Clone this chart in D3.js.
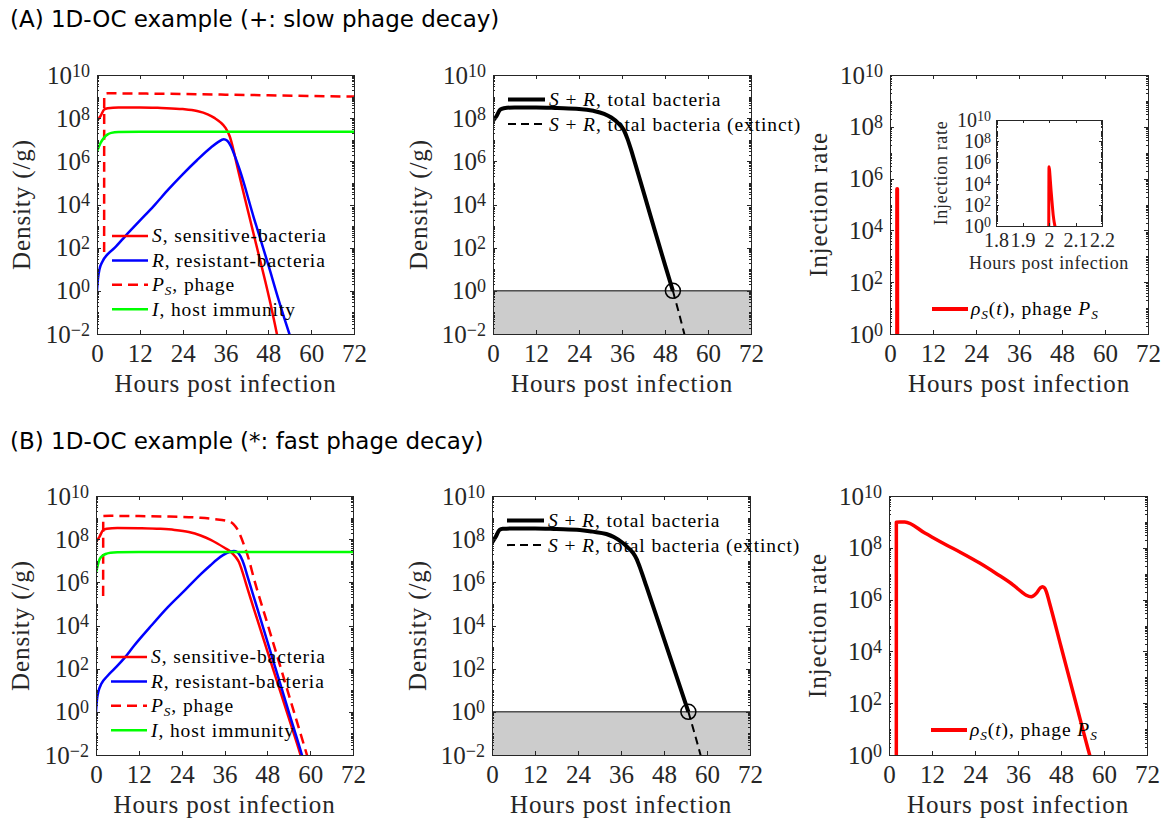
<!DOCTYPE html>
<html>
<head>
<meta charset="utf-8">
<script src="https://cdn.jsdelivr.net/npm/d3@7"></script>
<style>
  body { margin: 0; background: #fff; }
  svg { display: block; }
</style>
</head>
<body>
<svg id="fig" width="1176" height="826"></svg>
<script>
// ---- tick values -------------------------------------------------------
const hourTicks = [0, 12, 24, 36, 48, 60, 72];
const densityExps = [-2, 0, 2, 4, 6, 8, 10];
const rateExps = [0, 2, 4, 6, 8, 10];
const insetHourTicks = [1.8, 1.9, 2, 2.1, 2.2];

// ---- (A) slow phage decay: [hours post infection, log10 value] ---------
const slowSensitive = [[0,7.88],[1,8.1],[2,8.4],[3,8.46],[6,8.5],[12,8.5],[18,8.47],[24,8.42],[28,8.33],[31,8.18],[33,8.0],[34.5,7.82],[36,7.55],[37.2,7.15],[38.2,6.55],[39.1,5.9],[44,2.55],[48.4,-0.45],[50.4,-2.0],[51,-2.5]];
const slowResistant = [[0,0],[0.3,0.6],[0.7,1.0],[1.5,1.35],[3,1.7],[5,2.0],[8,2.55],[12,3.25],[16,3.95],[20,4.7],[24,5.4],[28,6.05],[32,6.65],[34,6.9],[35.5,7.02],[36.5,6.95],[37.5,6.7],[38.5,6.3],[40,5.6],[44,3.35],[48,1.2],[50.9,-0.43],[53.9,-2],[54.5,-2.3]];
const slowPhage = [[2,1.8],[2.02,9.1],[3,9.15],[12,9.14],[24,9.12],[36,9.09],[48,9.06],[60,9.03],[72,9.0]];
const slowImmunity = [[0,6.45],[1,6.85],[2,7.1],[3,7.25],[4,7.32],[6,7.36],[12,7.37],[72,7.37]];
const slowTotal = [[0,7.88],[1,8.1],[2,8.4],[3,8.46],[6,8.5],[12,8.5],[18,8.47],[24,8.43],[28,8.34],[31,8.2],[33,8.03],[35,7.76],[36.5,7.45],[37.5,7.05],[38.5,6.55],[39.5,6.0],[44,3.45],[48,1.2],[50.2,0]];
const slowTotalExtinct = [[50.2,0],[53.4,-2],[54,-2.4]];
const slowRate = [[1.999,-1],[2.0,5.6],[2.002,5.3],[2.005,4.3],[2.008,3.3],[2.012,2.1],[2.016,1.0],[2.02,0.3],[2.025,-0.3],[2.03,-1]];

// ---- (B) fast phage decay ----------------------------------------------
const fastSensitive = [[0,7.87],[1,8.12],[2,8.42],[3,8.48],[6,8.52],[12,8.51],[18,8.48],[22,8.43],[26,8.33],[29.3,8.17],[32,7.98],[34,7.8],[36,7.6],[37.7,7.42],[39,7.2],[40,6.95],[41,6.5],[42,5.95],[46,3.85],[50,1.78],[54,-0.28],[57.3,-2.0],[58,-2.4]];
const fastResistant = [[0,0],[0.3,0.6],[0.7,0.95],[1.5,1.3],[3.2,1.66],[5,1.97],[8,2.5],[10.6,3.05],[15,3.9],[20,4.83],[25,5.65],[29.3,6.37],[32,6.78],[34,7.07],[36.8,7.37],[38.6,7.45],[39.6,7.4],[40.5,7.2],[41.5,6.8],[42.4,6.3],[46,4.35],[50,2.18],[54,0.0],[57.7,-2.0],[58.5,-2.45]];
const fastPhage = [[2,5.37],[2.03,9.07],[4,9.08],[12,9.07],[20,9.05],[26,9.02],[29.3,8.99],[33,8.93],[36.8,8.84],[38.5,8.7],[39.6,8.46],[40.5,8.15],[41.4,7.76],[42.8,7.07],[44.2,6.2],[48,4.1],[52,1.9],[56,-0.3],[59.1,-2.0],[60,-2.5]];
const fastImmunity = [[0,6.45],[0.5,6.8],[1,7.07],[2,7.25],[3,7.33],[4.1,7.37],[6,7.39],[12,7.4],[72,7.4]];
const fastTotal = [[0,7.84],[1,8.1],[2.1,8.43],[3,8.48],[6,8.5],[12,8.5],[18,8.47],[24.5,8.43],[28,8.35],[31.9,8.24],[34,8.1],[36.6,7.81],[38,7.6],[39.4,7.35],[40.3,7.1],[41.2,6.73],[42.2,6.25],[43.1,5.81],[48,3.38],[54.8,0]];
const fastTotalExtinct = [[54.8,0],[58.2,-2],[59,-2.5]];
const fastRate = [[2.04,-1],[2.05,8.99],[3,9.0],[4.4,9.0],[10,8.57],[16,8.11],[20,7.82],[25.3,7.41],[30,7.0],[34.6,6.57],[37,6.3],[38.3,6.17],[39.7,6.11],[41.1,6.24],[42.2,6.45],[42.8,6.5],[43.4,6.45],[43.9,6.31],[44.8,5.87],[48,4.19],[52,2.09],[56,0],[56.6,-0.3]];

// ---- legend labels: [text, style]; style 'i' italic, '_' subscript ----
const labelSensitive = [['S','i'],[', sensitive-bacteria','']];
const labelResistant = [['R','i'],[', resistant-bacteria','']];
const labelPhage = [['P','i'],['S','i_'],[', phage','']];
const labelImmunity = [['I','i'],[', host immunity','']];
const labelTotal = [['S','i'],[' + ',''],['R','i'],[', total bacteria','']];
const labelTotalExtinct = [['S','i'],[' + ',''],['R','i'],[', total bacteria (extinct)','']];
const labelRate = [['\u03C1','i'],['S','i_'],['(',''],['t','i'],['), phage ',''],['P','i'],['S','i_']];

// ---- drawing helpers ---------------------------------------------------
const svg = d3.select('#fig');
const INK = '#262626';
const SERIF = '"Liberation Serif","Times New Roman",serif';
const SANS = '"DejaVu Sans", Verdana, sans-serif';
const RED = '#ff0000', BLUE = '#0000ff', GREEN = '#00ff00', BLACK = '#000000';
const defs = svg.append('defs');
let clipCount = 0;

function richText(t, segs, size) {
  let shift = 0;
  segs.forEach(([s, st]) => {
    const ts = t.append('tspan').text(s);
    if (st.includes('i')) ts.attr('font-style', 'italic');
    const want = st.includes('_') ? size * 0.17 : 0;
    if (want !== shift) { ts.attr('dy', want - shift); shift = want; }
    if (st.includes('_')) ts.attr('font-size', size * 0.68);
  });
}

function makePanel(box, xDomain, expRange, xTicks, expTicks, sz) {
  const x = d3.scaleLinear().domain(xDomain).range([box.x, box.x + box.w]);
  const y = d3.scaleLog().domain([10 ** expRange[0], 10 ** expRange[1]]).range([box.y + box.h, box.y]);
  const g = svg.append('g');
  g.append('rect').attr('x', box.x).attr('y', box.y).attr('width', box.w).attr('height', box.h).attr('fill', '#fff');
  const cid = 'plotclip' + (clipCount++);
  defs.append('clipPath').attr('id', cid).append('rect')
    .attr('x', box.x).attr('y', box.y).attr('width', box.w).attr('height', box.h);
  const plot = g.append('g').attr('clip-path', `url(#${cid})`);
  const axes = g.append('g').attr('shape-rendering', 'crispEdges');

  const majors = expTicks.map(k => 10 ** k);
  const minors = [];
  for (let k = expRange[0]; k < expRange[1]; k++) {
    for (let m = 1; m < 10; m++) {
      if (m === 1 && expTicks.includes(k)) continue;
      minors.push(m * 10 ** k);
    }
  }

  axes.append('g').attr('transform', `translate(0,${box.y + box.h})`)
    .call(d3.axisBottom(x).tickValues(xTicks).tickSize(-sz.tickLen).tickSizeOuter(0)
      .tickPadding(sz.padX).tickFormat(d => String(d)));
  axes.append('g').attr('transform', `translate(0,${box.y})`)
    .call(d3.axisTop(x).tickValues(xTicks).tickSize(-sz.tickLen).tickSizeOuter(0).tickFormat(''));
  const left = axes.append('g').attr('transform', `translate(${box.x},0)`)
    .call(d3.axisLeft(y).tickValues(majors).tickSize(-sz.tickLen).tickSizeOuter(0).tickPadding(sz.padY));
  axes.append('g').attr('transform', `translate(${box.x + box.w},0)`)
    .call(d3.axisRight(y).tickValues(majors).tickSize(-sz.tickLen).tickSizeOuter(0).tickFormat(''));
  axes.append('g').attr('transform', `translate(${box.x},0)`)
    .call(d3.axisLeft(y).tickValues(minors).tickSize(-sz.minorLen).tickSizeOuter(0).tickFormat(''))
    .select('.domain').remove();
  axes.append('g').attr('transform', `translate(${box.x + box.w},0)`)
    .call(d3.axisRight(y).tickValues(minors).tickSize(-sz.minorLen).tickSizeOuter(0).tickFormat(''))
    .select('.domain').remove();

  axes.selectAll('path.domain').attr('stroke', INK).attr('stroke-width', 1);
  axes.selectAll('line').attr('stroke', INK).attr('stroke-width', 1);
  axes.selectAll('g').attr('font-family', null).attr('font-size', null);
  axes.selectAll('text').attr('font-family', SERIF).attr('font-size', sz.tick).attr('fill', INK);

  // power-of-ten labels: 10 with a raised exponent
  left.selectAll('.tick text').text(null).each(function (d) {
    const k = Math.round(Math.log10(d));
    const t = d3.select(this);
    t.append('tspan').text('10');
    t.append('tspan').attr('dy', -sz.supRaise).attr('font-size', sz.sup)
      .text(k < 0 ? '\u2212' + (-k) : String(k));
  });

  return { x, y, g, plot, box, sz };
}

function series(p, data, color, width, dash) {
  const line = d3.line()
    .x(d => p.x(d[0]))
    .y(d => p.y(10 ** d[1]))
    .curve(d3.curveMonotoneX);
  p.plot.append('path').datum(data)
    .attr('d', line).attr('fill', 'none').attr('stroke', color)
    .attr('stroke-width', width).attr('stroke-linejoin', 'round')
    .attr('stroke-dasharray', dash || null);
}

function axisLabels(p, xText, yText, yOffset) {
  const b = p.box, sz = p.sz;
  p.g.append('text')
    .attr('x', b.x + b.w / 2).attr('y', b.y + b.h + sz.xLabelGap)
    .attr('text-anchor', 'middle').attr('font-family', SERIF)
    .attr('font-size', sz.label).attr('letter-spacing', sz.spacing).attr('fill', INK)
    .text(xText);
  p.g.append('text')
    .attr('transform', `translate(${b.x - yOffset},${b.y + b.h / 2}) rotate(-90)`)
    .attr('dy', '0.33em')
    .attr('text-anchor', 'middle').attr('font-family', SERIF)
    .attr('font-size', sz.label).attr('letter-spacing', sz.spacing).attr('fill', INK)
    .text(yText);
}

function legend(p, items, lay) {
  const b = p.box;
  items.forEach((it, i) => {
    const yy = b.y + lay.top + i * lay.step;
    p.g.append('line')
      .attr('x1', b.x + lay.l0).attr('x2', b.x + lay.l1).attr('y1', yy).attr('y2', yy)
      .attr('stroke', it.color).attr('stroke-width', it.width)
      .attr('stroke-dasharray', it.dash || null);
    const t = p.g.append('text')
      .attr('x', b.x + lay.tx).attr('y', yy + lay.size * 0.33)
      .attr('font-family', SERIF).attr('font-size', lay.size)
      .attr('letter-spacing', lay.spacing).attr('fill', '#000');
    richText(t, it.label, lay.size);
  });
}

const mainSize = { tick: 25, sup: 18, supRaise: 7, tickLen: 4, minorLen: 2, padX: 10, padY: 7,
                   label: 25, spacing: 0.9, xLabelGap: 58 };
const insetSize = { tick: 20, sup: 14, supRaise: 5.5, tickLen: 3, minorLen: 1.5, padX: 7, padY: 5,
                    label: 18, spacing: 0.65, xLabelGap: 43 };
const legendFont = 19.5, legendSpacing = 0.9;

// ---- titles --------------------------------------------------------------
svg.append('text').attr('x', 10).attr('y', 27)
  .attr('font-family', SANS).attr('font-size', 23).attr('fill', '#000')
  .text('(A) 1D-OC example (+: slow phage decay)');
svg.append('text').attr('x', 10).attr('y', 449)
  .attr('font-family', SANS).attr('font-size', 23).attr('fill', '#000')
  .text('(B) 1D-OC example (*: fast phage decay)');

// ---- one row of three panels ------------------------------------------
function buildRow(top, lefts, d) {
  // populations
  const p1 = makePanel({ x: lefts[0], y: top, w: 257, h: 259 }, [0, 72], [-2, 10], hourTicks, densityExps, mainSize);
  series(p1, d.S, RED, 2.5);
  series(p1, d.R, BLUE, 2.5);
  series(p1, d.P, RED, 2.5, '10,6');
  series(p1, d.I, GREEN, 2.5);
  axisLabels(p1, 'Hours post infection', 'Density (/g)', 75);
  legend(p1, [
    { color: RED, width: 2.5, label: labelSensitive },
    { color: BLUE, width: 2.5, label: labelResistant },
    { color: RED, width: 2.5, dash: '10,6', label: labelPhage },
    { color: GREEN, width: 2.5, label: labelImmunity }
  ], { top: 161, step: 24.4, l0: 15, l1: 51, tx: 55, size: legendFont, spacing: legendSpacing });

  // total bacteria with extinction threshold
  const p2 = makePanel({ x: lefts[1], y: top, w: 258, h: 259 }, [0, 72], [-2, 10], hourTicks, densityExps, mainSize);
  p2.plot.append('rect')
    .attr('x', p2.box.x).attr('width', p2.box.w)
    .attr('y', p2.y(1)).attr('height', p2.y(0.01) - p2.y(1))
    .attr('fill', '#cccccc');
  p2.plot.append('line')
    .attr('x1', p2.box.x).attr('x2', p2.box.x + p2.box.w).attr('y1', p2.y(1)).attr('y2', p2.y(1))
    .attr('stroke', '#000').attr('stroke-width', 1);
  series(p2, d.total, BLACK, 4);
  series(p2, d.extinct, BLACK, 2, '8,5');
  const last = d.total[d.total.length - 1];
  p2.g.append('circle')
    .attr('cx', p2.x(last[0])).attr('cy', p2.y(10 ** last[1])).attr('r', 7.5)
    .attr('fill', 'none').attr('stroke', '#000').attr('stroke-width', 1.5);
  axisLabels(p2, 'Hours post infection', 'Density (/g)', 74);
  legend(p2, [
    { color: BLACK, width: 4, label: labelTotal },
    { color: BLACK, width: 2, dash: '8,5', label: labelTotalExtinct }
  ], { top: 24.5, step: 24.6, l0: 15, l1: 52, tx: 56, size: legendFont, spacing: legendSpacing });

  // phage injection rate
  const p3 = makePanel({ x: lefts[2], y: top, w: 258, h: 259 }, [0, 72], [0, 10], hourTicks, rateExps, mainSize);
  series(p3, d.rate, RED, d.rateWidth);
  axisLabels(p3, 'Hours post infection', 'Injection rate', 71);
  legend(p3, [
    { color: RED, width: 4, label: labelRate }
  ], { top: 234, step: 0, l0: 42, l1: 78, tx: 81, size: legendFont, spacing: legendSpacing });
  return p3;
}

buildRow(75, [97, 493, 890], {
  S: slowSensitive, R: slowResistant, P: slowPhage, I: slowImmunity,
  total: slowTotal, extinct: slowTotalExtinct, rate: slowRate, rateWidth: 4
});

// zoomed view of the injection pulse around t = 2 h
const inset = makePanel({ x: 996, y: 120, w: 106, h: 106 }, [1.8, 2.2], [0, 10], insetHourTicks, rateExps, insetSize);
series(inset, slowRate, RED, 3);
axisLabels(inset, 'Hours post infection', 'Injection rate', 55);

buildRow(496, [96, 492, 889], {
  S: fastSensitive, R: fastResistant, P: fastPhage, I: fastImmunity,
  total: fastTotal, extinct: fastTotalExtinct, rate: fastRate, rateWidth: 3.5
});
</script>
</body>
</html>
